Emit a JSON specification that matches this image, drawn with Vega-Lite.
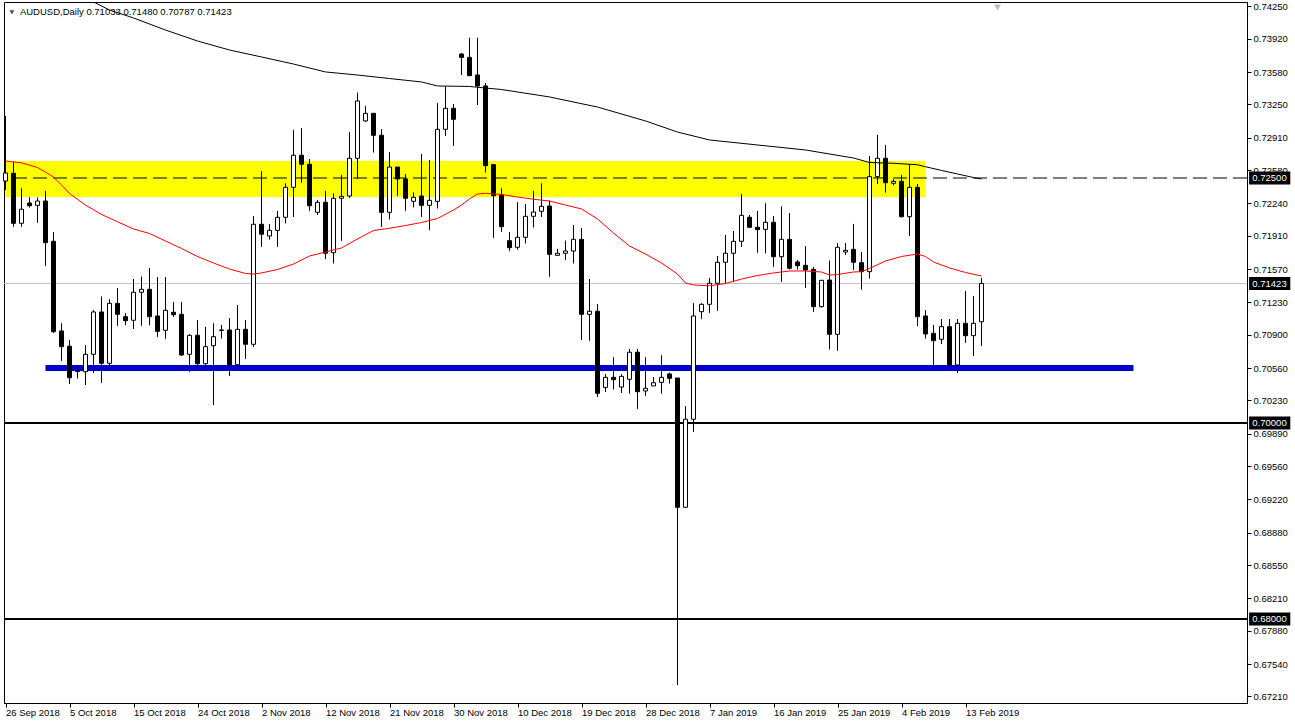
{
  "$schema": "https://vega.github.io/schema/vega-lite/v6.json",
  "width": 1243,
  "height": 701,
  "autosize": {"type": "none"},
  "padding": {"left": 4, "top": 2, "right": 48, "bottom": 22},
  "background": "white",
  "config": {
    "view": {"stroke": "black", "strokeWidth": 1},
    "font": "Liberation Sans",
    "scale": {"continuousPadding": 0},
    "axis": {
      "grid": false, "labelFont": "Liberation Sans", "labelFontSize": 9.5, "labelColor": "black",
      "tickSize": 4, "tickColor": "black", "domainColor": "black", "labelOverlap": false,
      "labelBound": false, "labelFlush": false
    }
  },
  "data": {"values": [{"one": 1}]},
  "datasets": {
    "candles": [
      {"i":0,"o":0.72469,"h":0.73133,"l":0.72378,"c":0.72551},
      {"i":1,"o":0.72548,"h":0.72666,"l":0.72003,"c":0.72038},
      {"i":2,"o":0.72038,"h":0.72395,"l":0.72003,"c":0.72181},
      {"i":3,"o":0.72245,"h":0.72303,"l":0.72201,"c":0.72217},
      {"i":4,"o":0.72221,"h":0.72299,"l":0.72044,"c":0.72265},
      {"i":5,"o":0.72265,"h":0.72367,"l":0.71605,"c":0.7184},
      {"i":6,"o":0.71854,"h":0.71946,"l":0.70921,"c":0.70932},
      {"i":7,"o":0.70939,"h":0.71017,"l":0.70636,"c":0.70779},
      {"i":8,"o":0.70783,"h":0.70847,"l":0.70398,"c":0.70462},
      {"i":9,"o":0.70531,"h":0.70575,"l":0.70456,"c":0.70526},
      {"i":10,"o":0.70523,"h":0.70796,"l":0.70388,"c":0.70701},
      {"i":11,"o":0.70701,"h":0.71153,"l":0.70513,"c":0.71133},
      {"i":12,"o":0.71133,"h":0.71289,"l":0.70411,"c":0.70609},
      {"i":13,"o":0.70609,"h":0.71262,"l":0.70574,"c":0.71221},
      {"i":14,"o":0.71221,"h":0.71374,"l":0.70993,"c":0.71109},
      {"i":15,"o":0.71085,"h":0.7112,"l":0.70999,"c":0.71044},
      {"i":16,"o":0.71048,"h":0.71469,"l":0.70962,"c":0.71334},
      {"i":17,"o":0.71334,"h":0.71493,"l":0.70995,"c":0.71364},
      {"i":18,"o":0.71364,"h":0.71579,"l":0.70999,"c":0.71085},
      {"i":19,"o":0.71092,"h":0.71487,"l":0.70881,"c":0.70936},
      {"i":20,"o":0.70946,"h":0.71487,"l":0.7086,"c":0.7115},
      {"i":21,"o":0.7113,"h":0.71232,"l":0.71085,"c":0.71105},
      {"i":22,"o":0.71109,"h":0.71232,"l":0.70684,"c":0.70694},
      {"i":23,"o":0.70701,"h":0.70905,"l":0.70523,"c":0.70895},
      {"i":24,"o":0.70895,"h":0.71051,"l":0.70534,"c":0.70605},
      {"i":25,"o":0.70605,"h":0.7098,"l":0.70541,"c":0.70779},
      {"i":26,"o":0.70789,"h":0.71017,"l":0.70184,"c":0.70881},
      {"i":27,"o":0.70949,"h":0.71,"l":0.70864,"c":0.70945},
      {"i":28,"o":0.70949,"h":0.71071,"l":0.70483,"c":0.70592},
      {"i":29,"o":0.70595,"h":0.71204,"l":0.70548,"c":0.70956},
      {"i":30,"o":0.70956,"h":0.71051,"l":0.70656,"c":0.70803},
      {"i":31,"o":0.70803,"h":0.72112,"l":0.70779,"c":0.72028},
      {"i":32,"o":0.72028,"h":0.72571,"l":0.71799,"c":0.71926},
      {"i":33,"o":0.71908,"h":0.72031,"l":0.71874,"c":0.71966},
      {"i":34,"o":0.71966,"h":0.72163,"l":0.71799,"c":0.72099},
      {"i":35,"o":0.72099,"h":0.72446,"l":0.72038,"c":0.72405},
      {"i":36,"o":0.72405,"h":0.7299,"l":0.72105,"c":0.72732},
      {"i":37,"o":0.72732,"h":0.73007,"l":0.72452,"c":0.7264},
      {"i":38,"o":0.7264,"h":0.72691,"l":0.72166,"c":0.72217},
      {"i":39,"o":0.7215,"h":0.72276,"l":0.72122,"c":0.72252},
      {"i":40,"o":0.72252,"h":0.72367,"l":0.71673,"c":0.71732},
      {"i":41,"o":0.71738,"h":0.72344,"l":0.7163,"c":0.72293},
      {"i":42,"o":0.72293,"h":0.72531,"l":0.7186,"c":0.72313},
      {"i":43,"o":0.72316,"h":0.72966,"l":0.72299,"c":0.72701},
      {"i":44,"o":0.72701,"h":0.7337,"l":0.7249,"c":0.73286},
      {"i":45,"o":0.73082,"h":0.73235,"l":0.73074,"c":0.7316},
      {"i":46,"o":0.7316,"h":0.7316,"l":0.72762,"c":0.72936},
      {"i":47,"o":0.72936,"h":0.72997,"l":0.72003,"c":0.7215},
      {"i":48,"o":0.7215,"h":0.72762,"l":0.72079,"c":0.72612},
      {"i":49,"o":0.72612,"h":0.72612,"l":0.72319,"c":0.7249},
      {"i":50,"o":0.7249,"h":0.72541,"l":0.72166,"c":0.72293},
      {"i":51,"o":0.72262,"h":0.72354,"l":0.72201,"c":0.72303},
      {"i":52,"o":0.72316,"h":0.72745,"l":0.72105,"c":0.72221},
      {"i":53,"o":0.72221,"h":0.72684,"l":0.71969,"c":0.72272},
      {"i":54,"o":0.72262,"h":0.73262,"l":0.72191,"c":0.72997},
      {"i":55,"o":0.72997,"h":0.73432,"l":0.72929,"c":0.73211},
      {"i":56,"o":0.73211,"h":0.73255,"l":0.72827,"c":0.73099},
      {"i":57,"o":0.73765,"h":0.73772,"l":0.73551,"c":0.73731},
      {"i":58,"o":0.73731,"h":0.7393,"l":0.73544,"c":0.73544},
      {"i":59,"o":0.73551,"h":0.7393,"l":0.73245,"c":0.73439},
      {"i":60,"o":0.73439,"h":0.73466,"l":0.72554,"c":0.72626},
      {"i":61,"o":0.72636,"h":0.72643,"l":0.71891,"c":0.72319},
      {"i":62,"o":0.72327,"h":0.72395,"l":0.71952,"c":0.72003},
      {"i":63,"o":0.7186,"h":0.71946,"l":0.71758,"c":0.71789},
      {"i":64,"o":0.71793,"h":0.72252,"l":0.71772,"c":0.71895},
      {"i":65,"o":0.71895,"h":0.72232,"l":0.71834,"c":0.72109},
      {"i":66,"o":0.72109,"h":0.72367,"l":0.71997,"c":0.72153},
      {"i":67,"o":0.7216,"h":0.72446,"l":0.72105,"c":0.72211},
      {"i":68,"o":0.72214,"h":0.72268,"l":0.71493,"c":0.71721},
      {"i":69,"o":0.71711,"h":0.71776,"l":0.71711,"c":0.71732},
      {"i":70,"o":0.71732,"h":0.7186,"l":0.71663,"c":0.71755},
      {"i":71,"o":0.71755,"h":0.7202,"l":0.7163,"c":0.71874},
      {"i":72,"o":0.71874,"h":0.71987,"l":0.70847,"c":0.71109},
      {"i":73,"o":0.71109,"h":0.71469,"l":0.7084,"c":0.7114},
      {"i":74,"o":0.7114,"h":0.71211,"l":0.70268,"c":0.70303},
      {"i":75,"o":0.70363,"h":0.705,"l":0.70319,"c":0.70466},
      {"i":76,"o":0.70466,"h":0.7067,"l":0.70344,"c":0.70442},
      {"i":77,"o":0.70367,"h":0.70497,"l":0.70309,"c":0.70476},
      {"i":78,"o":0.70446,"h":0.70755,"l":0.70303,"c":0.70722},
      {"i":79,"o":0.70722,"h":0.70755,"l":0.70146,"c":0.70319},
      {"i":80,"o":0.70327,"h":0.7067,"l":0.70279,"c":0.70354},
      {"i":81,"o":0.70378,"h":0.70466,"l":0.70378,"c":0.70411},
      {"i":82,"o":0.70415,"h":0.70691,"l":0.70303,"c":0.70466},
      {"i":83,"o":0.705,"h":0.70513,"l":0.70405,"c":0.70456},
      {"i":84,"o":0.70459,"h":0.70459,"l":0.67327,"c":0.6914},
      {"i":85,"o":0.6914,"h":0.70173,"l":0.6914,"c":0.70038},
      {"i":86,"o":0.70038,"h":0.71221,"l":0.69911,"c":0.71092},
      {"i":87,"o":0.71136,"h":0.71221,"l":0.71061,"c":0.71211},
      {"i":88,"o":0.71211,"h":0.71477,"l":0.71126,"c":0.71426},
      {"i":89,"o":0.71426,"h":0.71704,"l":0.71146,"c":0.7164},
      {"i":90,"o":0.7164,"h":0.71918,"l":0.71418,"c":0.71732},
      {"i":91,"o":0.71732,"h":0.71959,"l":0.71442,"c":0.71854},
      {"i":92,"o":0.71854,"h":0.72337,"l":0.71799,"c":0.72119},
      {"i":93,"o":0.72099,"h":0.72122,"l":0.71997,"c":0.71997},
      {"i":94,"o":0.71997,"h":0.72163,"l":0.71738,"c":0.71973},
      {"i":95,"o":0.71976,"h":0.72242,"l":0.71732,"c":0.72048},
      {"i":96,"o":0.72048,"h":0.72112,"l":0.71595,"c":0.71697},
      {"i":97,"o":0.71697,"h":0.72207,"l":0.71442,"c":0.71874},
      {"i":98,"o":0.71874,"h":0.7214,"l":0.71568,"c":0.71579},
      {"i":99,"o":0.71643,"h":0.71663,"l":0.71568,"c":0.71605},
      {"i":100,"o":0.71609,"h":0.71806,"l":0.71381,"c":0.71561},
      {"i":101,"o":0.71568,"h":0.71589,"l":0.71136,"c":0.71187},
      {"i":102,"o":0.71187,"h":0.71456,"l":0.7118,"c":0.71456},
      {"i":103,"o":0.71459,"h":0.71656,"l":0.70752,"c":0.70905},
      {"i":104,"o":0.70905,"h":0.71834,"l":0.70738,"c":0.71793},
      {"i":105,"o":0.71745,"h":0.71834,"l":0.71714,"c":0.71762},
      {"i":106,"o":0.71772,"h":0.72031,"l":0.71561,"c":0.7164},
      {"i":107,"o":0.71636,"h":0.71742,"l":0.71364,"c":0.71544},
      {"i":108,"o":0.71544,"h":0.72724,"l":0.71477,"c":0.72514},
      {"i":109,"o":0.72514,"h":0.72939,"l":0.72439,"c":0.72701},
      {"i":110,"o":0.72701,"h":0.72837,"l":0.7235,"c":0.72452},
      {"i":111,"o":0.72446,"h":0.72487,"l":0.72426,"c":0.72466},
      {"i":112,"o":0.72466,"h":0.72531,"l":0.72099,"c":0.72105},
      {"i":113,"o":0.72105,"h":0.72643,"l":0.71911,"c":0.72405},
      {"i":114,"o":0.72405,"h":0.72439,"l":0.7099,"c":0.71085},
      {"i":115,"o":0.71092,"h":0.71153,"l":0.70864,"c":0.70908},
      {"i":116,"o":0.70915,"h":0.71,"l":0.70592,"c":0.7084},
      {"i":117,"o":0.70854,"h":0.71058,"l":0.70806,"c":0.70983},
      {"i":118,"o":0.70983,"h":0.71058,"l":0.70541,"c":0.70592},
      {"i":119,"o":0.70592,"h":0.71058,"l":0.70513,"c":0.71017},
      {"i":120,"o":0.71017,"h":0.71347,"l":0.70819,"c":0.70891},
      {"i":121,"o":0.70891,"h":0.71296,"l":0.70684,"c":0.71017},
      {"i":122,"o":0.71033,"h":0.7148,"l":0.70787,"c":0.71423}
    ],
    "ma50": [
      {"i":0,"v":0.72673},{"i":2,"v":0.72655},{"i":4,"v":0.72607},{"i":5,"v":0.72561},{"i":6,"v":0.7251},{"i":7,"v":0.72429},{"i":8,"v":0.72342},{"i":10,"v":0.72224},{"i":12,"v":0.72128},{"i":14,"v":0.72054},{"i":16,"v":0.7198},{"i":18,"v":0.71934},{"i":20,"v":0.71857},{"i":22,"v":0.71781},{"i":24,"v":0.71699},{"i":26,"v":0.71633},{"i":28,"v":0.71571},{"i":30,"v":0.71526},{"i":31,"v":0.7152},{"i":32,"v":0.71531},{"i":34,"v":0.71566},{"i":36,"v":0.71622},{"i":38,"v":0.71704},{"i":40,"v":0.71745},{"i":42,"v":0.71786},{"i":44,"v":0.71878},{"i":46,"v":0.71964},{"i":48,"v":0.71987},{"i":50,"v":0.72015},{"i":52,"v":0.72046},{"i":54,"v":0.72087},{"i":56,"v":0.72173},{"i":57,"v":0.72224},{"i":58,"v":0.72286},{"i":59,"v":0.72337},{"i":60,"v":0.72344},{"i":62,"v":0.72332},{"i":64,"v":0.72306},{"i":66,"v":0.72283},{"i":68,"v":0.72265},{"i":70,"v":0.72224},{"i":72,"v":0.72184},{"i":74,"v":0.72082},{"i":76,"v":0.71939},{"i":78,"v":0.71806},{"i":80,"v":0.71724},{"i":82,"v":0.71633},{"i":84,"v":0.7152},{"i":85,"v":0.71429},{"i":86,"v":0.71408},{"i":88,"v":0.714},{"i":90,"v":0.71423},{"i":92,"v":0.71469},{"i":94,"v":0.71505},{"i":96,"v":0.71531},{"i":98,"v":0.71551},{"i":100,"v":0.71551},{"i":102,"v":0.71541},{"i":103,"v":0.7151},{"i":104,"v":0.71515},{"i":106,"v":0.71541},{"i":107,"v":0.71544},{"i":108,"v":0.71577},{"i":110,"v":0.71653},{"i":112,"v":0.71699},{"i":114,"v":0.71724},{"i":115,"v":0.71699},{"i":116,"v":0.71643},{"i":118,"v":0.71582},{"i":120,"v":0.71536},{"i":122,"v":0.715}
    ],
    "ma200": [
      {"i":11,"v":0.74296},{"i":13,"v":0.74214},{"i":16,"v":0.74133},{"i":20,"v":0.7401},{"i":24,"v":0.73898},{"i":28,"v":0.73806},{"i":32,"v":0.73735},{"i":36,"v":0.73663},{"i":40,"v":0.73582},{"i":44,"v":0.73551},{"i":48,"v":0.73515},{"i":52,"v":0.7348},{"i":54,"v":0.73439},{"i":58,"v":0.73434},{"i":60,"v":0.73418},{"i":62,"v":0.73403},{"i":68,"v":0.73327},{"i":74,"v":0.73224},{"i":80,"v":0.73082},{"i":84,"v":0.72969},{"i":88,"v":0.72888},{"i":94,"v":0.72837},{"i":100,"v":0.72786},{"i":106,"v":0.72704},{"i":108,"v":0.72658},{"i":111,"v":0.7265},{"i":114,"v":0.72635},{"i":115,"v":0.72615},{"i":117,"v":0.72577},{"i":119,"v":0.72541},{"i":121,"v":0.72505},{"i":122,"v":0.7249}
    ],
    "hlines": [{"p":0.70},{"p":0.68}],
    "tags": [
      {"p":0.725,"label":"0.72500"},
      {"p":0.71423,"label":"0.71423"},
      {"p":0.70,"label":"0.70000"},
      {"p":0.68,"label":"0.68000"}
    ]
  },
  "layer": [
    {
      "data": {"name": "candles"},
      "mark": {"type": "rule", "color": "black", "strokeWidth": 1},
      "encoding": {
        "x": {
          "field": "i", "type": "quantitative", "title": null,
          "scale": {"domain": [-0.1875, 155.1875], "nice": false, "zero": false, "padding": 0},
          "axis": {
            "orient": "bottom", "title": null, "labelOverlap": false, "labelFlush": false, "tickCount": 40,
            "values": [0,8,16,24,32,40,48,56,64,72,80,88,96,104,112,120],
            "labelExpr": "['26 Sep 2018','5 Oct 2018','15 Oct 2018','24 Oct 2018','2 Nov 2018','12 Nov 2018','21 Nov 2018','30 Nov 2018','10 Dec 2018','19 Dec 2018','28 Dec 2018','7 Jan 2019','16 Jan 2019','25 Jan 2019','4 Feb 2019','13 Feb 2019'][round(datum.value / 8)]",
            "labelAlign": "left", "labelBaseline": "top", "labelPadding": 0
          }
        },
        "y": {
          "field": "l", "type": "quantitative", "title": null,
          "scale": {"domain": [0.671428, 0.742959], "nice": false, "zero": false, "padding": 0},
          "axis": {
            "orient": "right", "title": null, "labelOverlap": false, "tickCount": 40,
            "values": [0.7425,0.7392,0.7358,0.7325,0.7291,0.7258,0.7224,0.7191,0.7157,0.7123,0.709,0.7056,0.7023,0.6989,0.6956,0.6922,0.6888,0.6855,0.6821,0.6788,0.6754,0.6721],
            "format": ".5f", "labelPadding": 2
          }
        },
        "y2": {"field": "h"}
      }
    },
    {
      "mark": {"type": "rect", "color": "#FFFF00"},
      "encoding": {
        "x": {"datum": 0, "type": "quantitative", "title": null, "scale": {"domain": [-0.1875, 155.1875], "nice": false, "zero": false, "padding": 0}},
        "x2": {"datum": 115},
        "y": {"datum": 0.72673, "type": "quantitative", "title": null, "scale": {"domain": [0.671428, 0.742959], "nice": false, "zero": false, "padding": 0}, "axis": {"orient": "right", "title": null}},
        "y2": {"datum": 0.72306}
      }
    },
    {
      "mark": {"type": "rule", "color": "#C0C0C0", "strokeWidth": 1},
      "encoding": {
        "y": {"datum": 0.71423, "type": "quantitative", "title": null, "scale": {"domain": [0.671428, 0.742959], "nice": false, "zero": false, "padding": 0}, "axis": {"orient": "right", "title": null}}
      }
    },
    {
      "data": {"name": "hlines"},
      "mark": {"type": "rule", "color": "black", "strokeWidth": 2},
      "encoding": {
        "y": {"field": "p", "type": "quantitative", "title": null, "scale": {"domain": [0.671428, 0.742959], "nice": false, "zero": false, "padding": 0}, "axis": {"orient": "right", "title": null}}
      }
    },
    {
      "mark": {"type": "rule", "color": "black", "strokeWidth": 1, "strokeDash": [14, 6]},
      "encoding": {
        "y": {"datum": 0.725, "type": "quantitative", "title": null, "scale": {"domain": [0.671428, 0.742959], "nice": false, "zero": false, "padding": 0}, "axis": {"orient": "right", "title": null}}
      }
    },
    {
      "mark": {"type": "rule", "color": "#0000CD", "strokeWidth": 6},
      "encoding": {
        "x": {"datum": 5, "type": "quantitative", "title": null, "scale": {"domain": [-0.1875, 155.1875], "nice": false, "zero": false, "padding": 0}},
        "x2": {"datum": 141},
        "y": {"datum": 0.70561, "type": "quantitative", "title": null, "scale": {"domain": [0.671428, 0.742959], "nice": false, "zero": false, "padding": 0}, "axis": {"orient": "right", "title": null}}
      }
    },
    {
      "data": {"name": "candles"},
      "mark": {"type": "rule", "color": "black", "strokeWidth": 1},
      "encoding": {
        "x": {"field": "i", "type": "quantitative", "title": null, "scale": {"domain": [-0.1875, 155.1875], "nice": false, "zero": false, "padding": 0}},
        "y": {"field": "l", "type": "quantitative", "title": null, "scale": {"domain": [0.671428, 0.742959], "nice": false, "zero": false, "padding": 0}, "axis": {"orient": "right", "title": null}},
        "y2": {"field": "h"}
      }
    },
    {
      "data": {"name": "candles"},
      "mark": {"type": "bar", "width": 4, "stroke": "black", "strokeWidth": 1},
      "encoding": {
        "x": {"field": "i", "type": "quantitative", "title": null, "scale": {"domain": [-0.1875, 155.1875], "nice": false, "zero": false, "padding": 0}},
        "y": {"field": "o", "type": "quantitative", "title": null, "scale": {"domain": [0.671428, 0.742959], "nice": false, "zero": false, "padding": 0}, "axis": {"orient": "right", "title": null}},
        "y2": {"field": "c"},
        "fill": {"condition": {"test": "datum.c < datum.o", "value": "black"}, "value": "white"}
      }
    },
    {
      "data": {"name": "ma50"},
      "mark": {"type": "line", "color": "#FF0000", "strokeWidth": 1, "clip": true},
      "encoding": {
        "x": {"field": "i", "type": "quantitative", "title": null, "scale": {"domain": [-0.1875, 155.1875], "nice": false, "zero": false, "padding": 0}},
        "y": {"field": "v", "type": "quantitative", "title": null, "scale": {"domain": [0.671428, 0.742959], "nice": false, "zero": false, "padding": 0}, "axis": {"orient": "right", "title": null}}
      }
    },
    {
      "data": {"name": "ma200"},
      "mark": {"type": "line", "color": "black", "strokeWidth": 1, "clip": true},
      "encoding": {
        "x": {"field": "i", "type": "quantitative", "title": null, "scale": {"domain": [-0.1875, 155.1875], "nice": false, "zero": false, "padding": 0}},
        "y": {"field": "v", "type": "quantitative", "title": null, "scale": {"domain": [0.671428, 0.742959], "nice": false, "zero": false, "padding": 0}, "axis": {"orient": "right", "title": null}}
      }
    },
    {
      "data": {"name": "tags"},
      "mark": {"type": "rect", "color": "black", "yOffset": -6.5, "y2Offset": 6.5},
      "encoding": {
        "x": {"datum": 155.45, "type": "quantitative", "title": null, "scale": {"domain": [-0.1875, 155.1875], "nice": false, "zero": false, "padding": 0}},
        "x2": {"datum": 160.6},
        "y": {"field": "p", "type": "quantitative", "title": null, "scale": {"domain": [0.671428, 0.742959], "nice": false, "zero": false, "padding": 0}, "axis": {"orient": "right", "title": null}},
        "y2": {"field": "p"}
      }
    },
    {
      "data": {"name": "tags"},
      "mark": {"type": "text", "color": "white", "font": "Liberation Sans", "fontSize": 9.5, "align": "center", "baseline": "middle"},
      "encoding": {
        "x": {"datum": 158.0, "type": "quantitative", "title": null, "scale": {"domain": [-0.1875, 155.1875], "nice": false, "zero": false, "padding": 0}},
        "y": {"field": "p", "type": "quantitative", "title": null, "scale": {"domain": [0.671428, 0.742959], "nice": false, "zero": false, "padding": 0}, "axis": {"orient": "right", "title": null}},
        "text": {"field": "label"}
      }
    },
    {
      "mark": {"type": "point", "shape": "triangle-down", "filled": true, "color": "black", "size": 22},
      "encoding": {
        "x": {"datum": 0.8, "type": "quantitative", "title": null, "scale": {"domain": [-0.1875, 155.1875], "nice": false, "zero": false, "padding": 0}},
        "y": {"datum": 0.7419, "type": "quantitative", "title": null, "scale": {"domain": [0.671428, 0.742959], "nice": false, "zero": false, "padding": 0}, "axis": {"orient": "right", "title": null}}
      }
    },
    {
      "mark": {"type": "text", "color": "black", "font": "Liberation Sans", "fontSize": 9.5, "align": "left", "baseline": "middle"},
      "encoding": {
        "x": {"datum": 1.8, "type": "quantitative", "title": null, "scale": {"domain": [-0.1875, 155.1875], "nice": false, "zero": false, "padding": 0}},
        "y": {"datum": 0.7419, "type": "quantitative", "title": null, "scale": {"domain": [0.671428, 0.742959], "nice": false, "zero": false, "padding": 0}, "axis": {"orient": "right", "title": null}},
        "text": {"value": "AUDUSD,Daily  0.71033 0.71480 0.70787 0.71423"}
      }
    },
    {
      "mark": {"type": "point", "shape": "triangle-down", "filled": true, "color": "#A0A0A0", "size": 50},
      "encoding": {
        "x": {"datum": 124, "type": "quantitative", "title": null, "scale": {"domain": [-0.1875, 155.1875], "nice": false, "zero": false, "padding": 0}},
        "y": {"datum": 0.7424, "type": "quantitative", "title": null, "scale": {"domain": [0.671428, 0.742959], "nice": false, "zero": false, "padding": 0}, "axis": {"orient": "right", "title": null}}
      }
    }
  ]
}
